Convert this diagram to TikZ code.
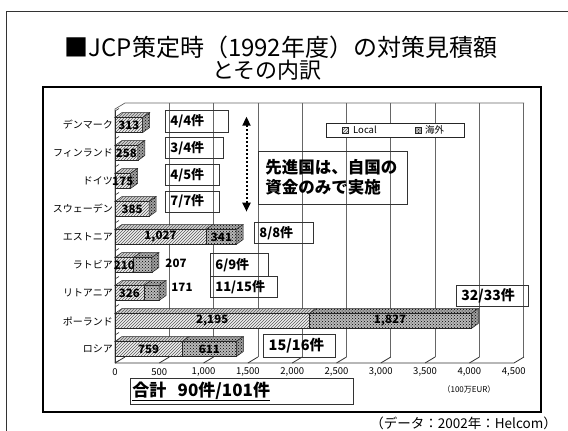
\documentclass[tikz,border=0pt]{standalone}
\usepackage{fontspec}
\setmainfont{Noto Sans CJK JP}
\usetikzlibrary{arrows.meta,patterns}

\begin{document}
\begin{tikzpicture}[x=1pt, y=-1pt,
    grid/.style={draw=black!60, line width=0.7pt},
    locface/.style={draw=black!85, line width=0.5pt, preaction={fill=#1}, pattern=north east lines, pattern color=black!65},
    fgnface/.style={draw=black!85, line width=0.5pt, preaction={fill=#1}, pattern=crosshatch dots, pattern color=black},
    barnum/.style={font=\bfseries\fontsize{11.5}{12}\selectfont, inner sep=0pt},
    catlbl/.style={font=\fontsize{10}{10}\selectfont, anchor=east, inner sep=0pt},
    ticklbl/.style={font=\fontsize{9.5}{10}\selectfont, inner sep=0pt},
    cnt/.style={draw=black!80, line width=0.8pt, anchor=north west, inner xsep=5pt, inner ysep=0pt, align=left, font=\bfseries\fontsize{13}{13}\selectfont}]
    \useasboundingbox (0,0) rectangle (568,431);

    % frames
    \draw[black!80, line width=1pt] (6.5,431) -- (6.5,11) -- (568,11);
    \draw[black, line width=1.1pt] (43,87) rectangle (541,412);

    \node[font=\fontsize{24}{24}\selectfont] (title1) at (281,47.5) {■JCP策定時（1992年度）の対策見積額};
    \node[font=\fontsize{22}{22}\selectfont] (title2) at (267,70.5) {とその内訳};

    % walls and floor
    \foreach \k in {1,...,9}
        \draw[grid] (125+44.3*\k,103) -- (125+44.3*\k,357);
    \draw[grid] (115,363) -- (115,109) -- (125,103) -- (524,103);
    \draw[black!80, line width=0.8pt] (115,363) -- (514,363) -- (524,357);
    \foreach \k in {0,...,8}
        \draw[black!80, line width=0.8pt] (115+44.3*\k,363) -- (125+44.3*\k,357);
    \foreach \b in {0,...,9}
        \draw[black!80, line width=0.6pt] (115,111+28*\b) -- (119,108.5+28*\b);
    \draw[black!80, line width=0.8pt] (115,363) -- (115,111);

    % bars
    \foreach \row/\loc/\fgn/\ltxt in {0/313/0/313, 1/258/0/258, 2/175/0/175, 3/385/0/385, 4/1027/341/{1,027}, 5/210/207/210, 6/326/171/326, 7/2195/1827/{2,195}, 8/759/611/759} {
        \pgfmathsetmacro{\yc}{125+28*\row}
        \pgfmathsetmacro{\xa}{115+0.0886*\loc}
        \pgfmathsetmacro{\xb}{115+0.0886*(\loc+\fgn)}
        \draw[locface=gray!35] (115,\yc-7.5) -- (\xa,\yc-7.5) -- (\xa+7,\yc-12.5) -- (122,\yc-12.5) -- cycle;
        \draw[locface=gray!12] (115,\yc-7.5) rectangle (\xa,\yc+7.5);
        \draw[fgnface=gray!70] (\xa,\yc-7.5) -- (\xb,\yc-7.5) -- (\xb+7,\yc-12.5) -- (\xa+7,\yc-12.5) -- cycle;
        \draw[fgnface=gray!55] (\xa,\yc-7.5) rectangle (\xb,\yc+7.5);
        \draw[fgnface=gray!75] (\xb,\yc-7.5) -- (\xb+7,\yc-12.5) -- (\xb+7,\yc+2.5) -- (\xb,\yc+7.5) -- cycle;
        \node[barnum] (l\row) at ({(115+\xa)/2},\yc) {\ltxt};
    }
    \node[barnum] (f4) at (221.5,237) {341};
    \node[barnum] (f7) at (390,321) {1,827};
    \node[barnum] (f8) at (209.3,349) {611};
    \node[barnum] (f5) at (176,263) {207};
    \node[barnum] (f6) at (182,287) {171};

    % category and value axes
    \foreach \row/\name in {0/デンマーク, 1/フィンランド, 2/ドイツ, 3/スウェーデン, 4/エストニア, 5/ラトビア, 6/リトアニア, 7/ポーランド, 8/ロシア}
        \node[catlbl] (c\row) at (113,125+28*\row) {\name};
    \foreach \k/\t in {0/0, 1/500, 2/{1,000}, 3/{1,500}, 4/{2,000}, 5/{2,500}, 6/{3,000}, 7/{3,500}, 8/{4,000}, 9/{4,500}}
        \node[ticklbl] (t\k) at (115+44.3*\k,372) {\t};
    \node[font=\fontsize{8}{8}\selectfont, inner sep=0pt] (unit) at (469,389) {（100万EUR）};

    % legend
    \node[draw=black!85, line width=0.8pt, fill=white, anchor=north west, minimum width=138.6, minimum height=13.4, inner sep=0pt] (legend) at (325.7,123.3) {};
    \draw[locface=gray!12] (342.5,127.5) rectangle (348.5,133);
    \node[font=\fontsize{9.5}{10}\selectfont, anchor=west, inner sep=0pt] (loclbl) at (353,130.2) {Local};
    \draw[fgnface=gray!55] (415.5,127.5) rectangle (421.5,133);
    \node[font=\fontsize{9.5}{10}\selectfont, anchor=west, inner sep=0pt] (fgnlbl) at (425,130.2) {海外};

    % case counts
    \node[cnt, text width=53, minimum height=21.5] (n1) at (165,110) {4/4件};
    \node[cnt, text width=48, minimum height=21] (n2) at (165,137) {3/4件};
    \node[cnt, text width=44, minimum height=21] (n3) at (165,164) {4/5件};
    \node[cnt, text width=44, minimum height=21] (n4) at (165,190.7) {7/7件};
    \node[cnt, text width=49, minimum height=21.3] (n5) at (254,222) {8/8件};
    \node[cnt, text width=48.3, minimum height=22.4] (n6) at (210,253.3) {6/9件};
    \node[cnt, text width=57.3, minimum height=21.3] (n7) at (210,276) {11/15件};
    \node[cnt, text width=62.3, minimum height=21, font=\bfseries\fontsize{14}{14}\selectfont] (n8) at (456,285) {32/33件};
    \node[cnt, text width=61.7, minimum height=22.4, font=\bfseries\fontsize{14.5}{14.5}\selectfont] (n9) at (263.3,334.3) {15/16件};

    \node[cnt, inner xsep=7pt, text width=135, minimum height=53.3, font=\bfseries\fontsize{16.5}{20}\selectfont] (note) at (258,150.7) {先進国は、自国の\\資金のみで実施};
    \coordinate (up) at (246.5,116.7);
    \coordinate (down) at (246.5,211.7);
    \draw[line width=2pt, dash pattern=on 2pt off 2pt, {Triangle[width=8pt,length=9pt]}-{Triangle[width=8pt,length=9pt]}] (up) -- (down);

    \node[cnt, inner xsep=2.5pt, text width=218.5, minimum height=26, font=\bfseries\fontsize{17}{17}\selectfont] (total) at (129.5,378) {\underline{合計\ \ 90件/101件}};

    \node[anchor=east, inner sep=0pt, font=\fontsize{13.5}{14}\selectfont] (src) at (557,423) {（データ：2002年：Helcom）};
\end{tikzpicture}
\end{document}
